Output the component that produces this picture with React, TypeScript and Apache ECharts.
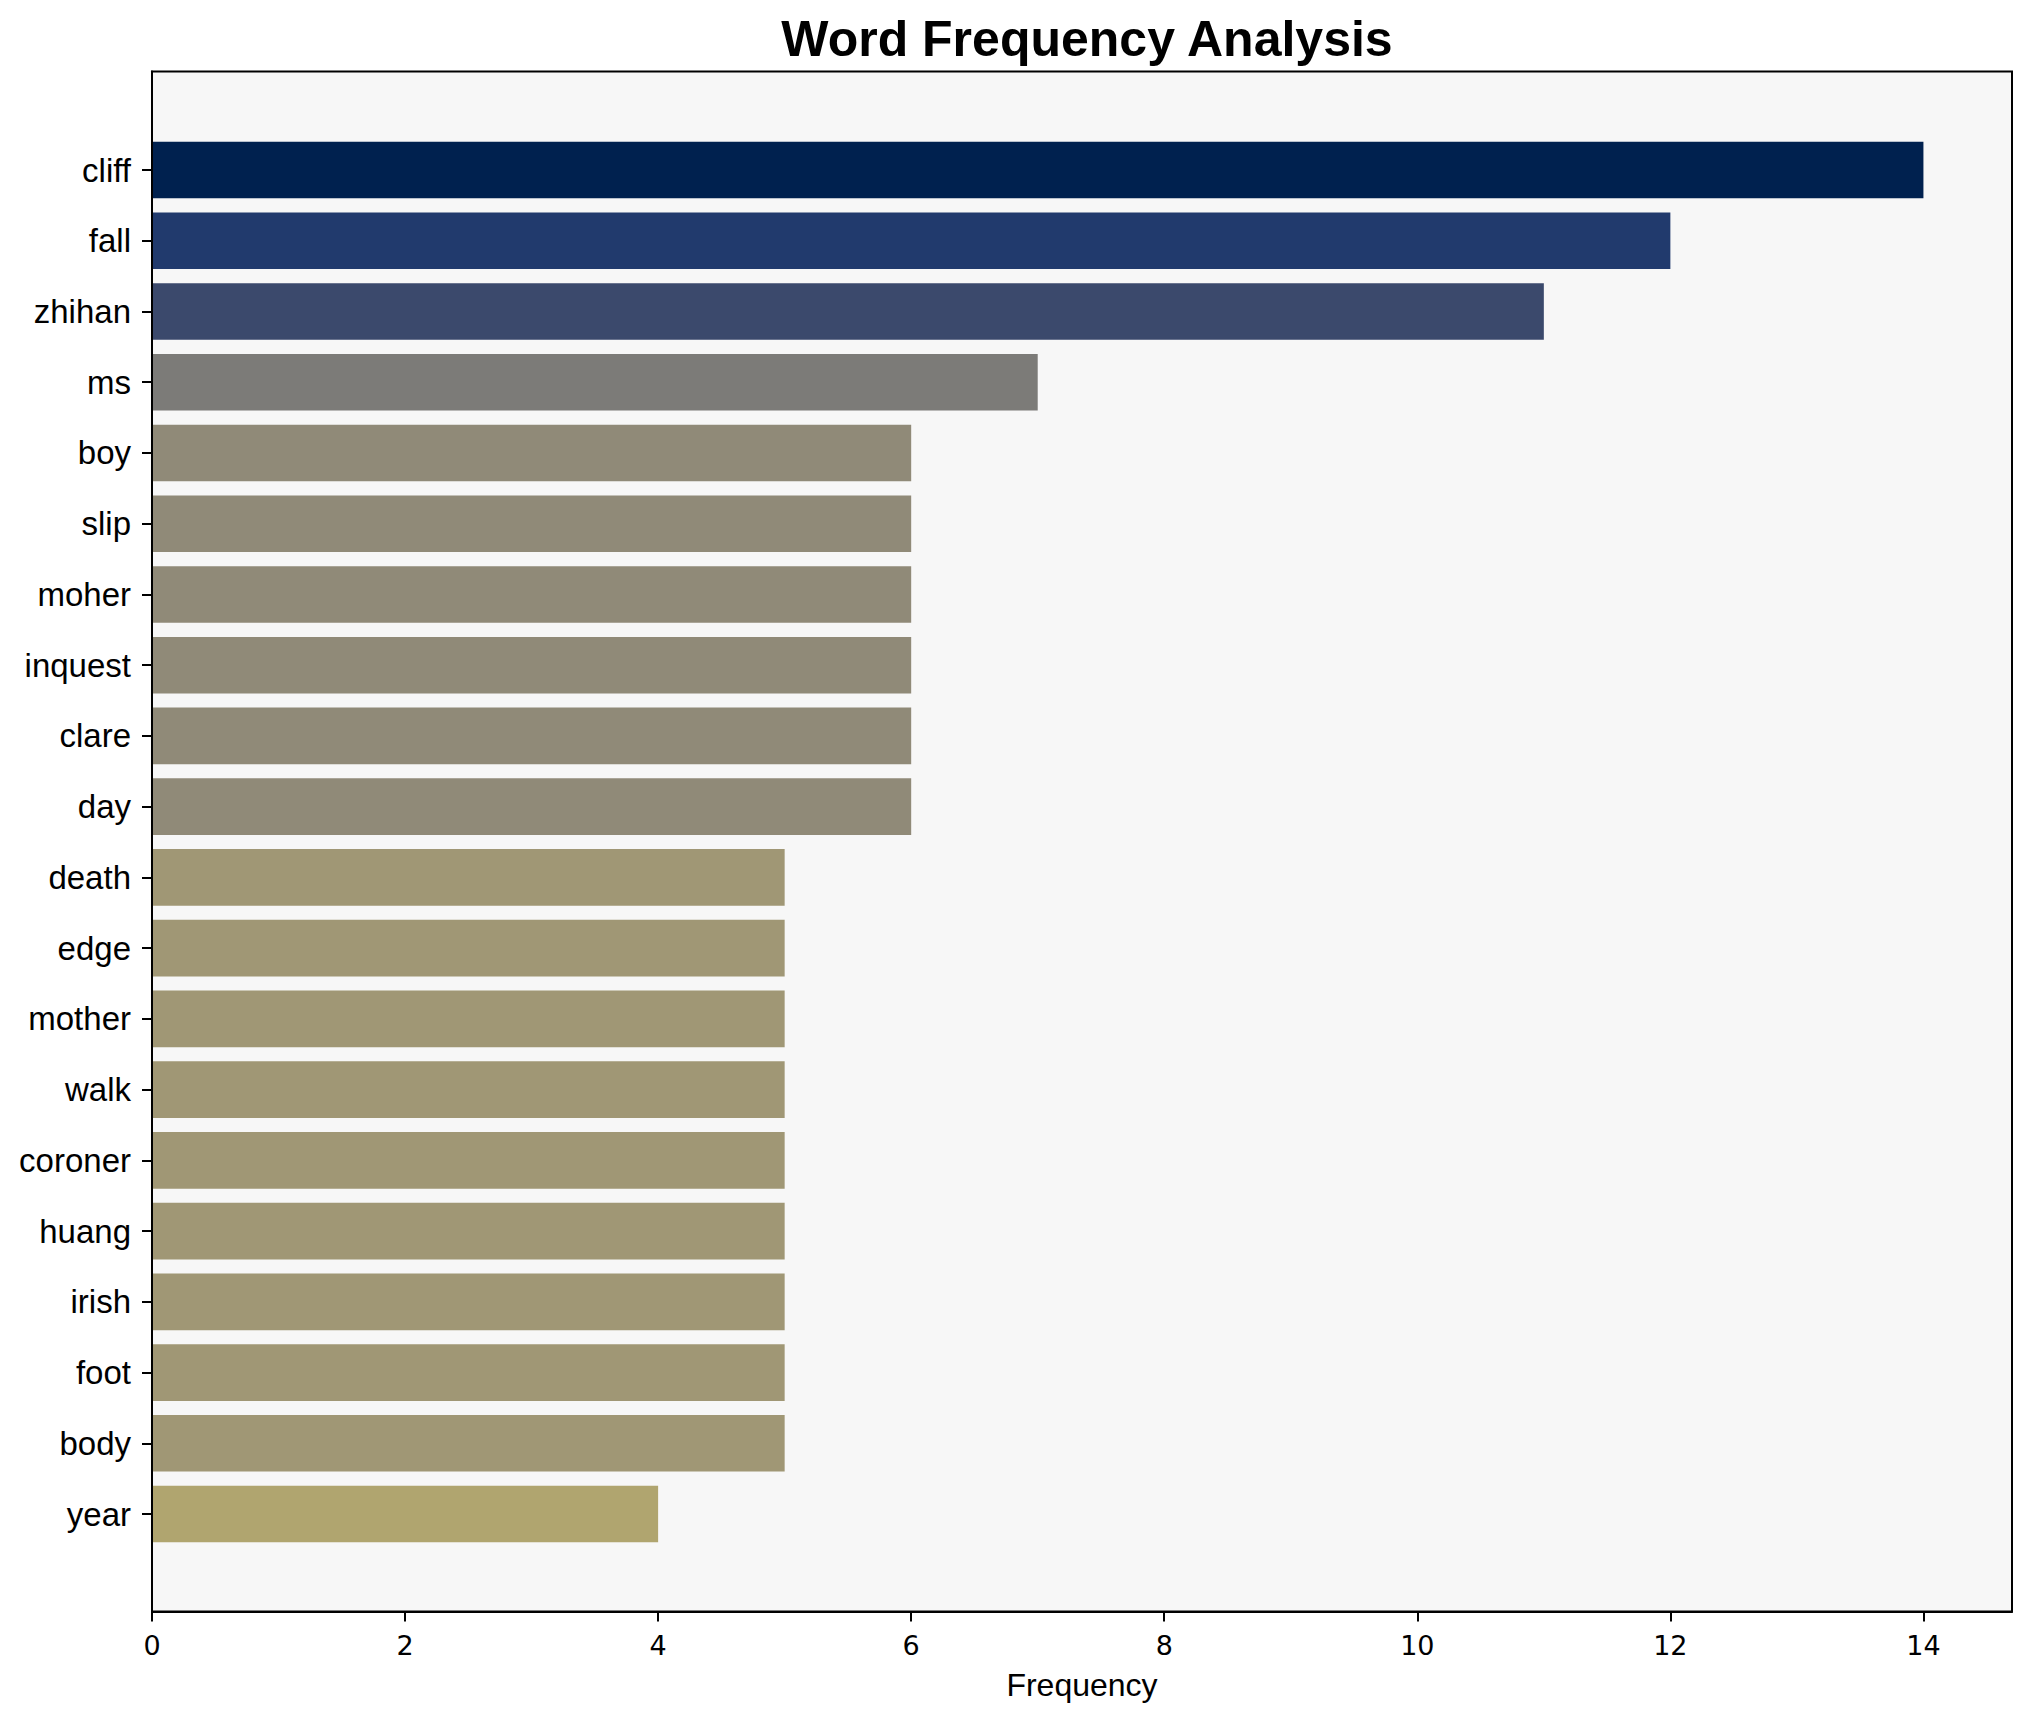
import React, { useEffect, useRef } from "react";
import * as echarts from "echarts";

const words = [
  "cliff", "fall", "zhihan", "ms", "boy", "slip", "moher", "inquest", "clare", "day",
  "death", "edge", "mother", "walk", "coroner", "huang", "irish", "foot", "body", "year",
];
const frequencies = [14, 12, 11, 7, 6, 6, 6, 6, 6, 6, 5, 5, 5, 5, 5, 5, 5, 5, 5, 4];
const barColors = [
  "#00214f", "#213a6d", "#3b496c", "#7c7b78",
  "#908a78", "#908a78", "#908a78", "#908a78", "#908a78", "#908a78",
  "#a09775", "#a09775", "#a09775", "#a09775", "#a09775", "#a09775", "#a09775", "#a09775", "#a09775",
  "#b0a56f",
];
const xTicks = [0, 2, 4, 6, 8, 10, 12, 14];

const FONT = "'Liberation Sans', Arial, sans-serif";
const TICK_FONT = "'DejaVu Sans', sans-serif";

export default function App() {
  const ref = useRef<HTMLDivElement>(null);
  useEffect(() => {
    if (!ref.current) return;
    const chart = echarts.init(ref.current, null, { renderer: "svg" });
    const frameLeft = 152;
    const frameWidth = 1860;
    const frameTop = 71.5;
    const frameHeight = 1540;
    const band = 70.74;
    const barTop = 170 - band / 2;
    chart.setOption({
      animation: false,
      backgroundColor: "#ffffff",
      textStyle: { fontFamily: FONT, color: "#000" },
      title: {
        text: "Word Frequency Analysis",
        left: frameLeft + frameWidth / 2,
        textAlign: "center",
        top: 9,
        textStyle: { fontFamily: FONT, fontSize: 50, fontWeight: "bold", color: "#000" },
      },
      grid: [
        {
          left: frameLeft,
          top: frameTop,
          width: frameWidth,
          height: frameHeight,
          show: true,
          backgroundColor: "#f7f7f7",
          borderColor: "#000",
          borderWidth: 2,
          outerBoundsMode: "none",
          containLabel: false,
        },
        {
          left: frameLeft,
          top: barTop,
          width: frameWidth,
          height: band * words.length,
          show: false,
          outerBoundsMode: "none",
          containLabel: false,
        },
      ],
      xAxis: [
        {
          type: "value",
          gridIndex: 0,
          min: 0,
          max: 14.7,
          interval: 2,
          z: 10,
          axisLine: { show: true, lineStyle: { color: "#000", width: 2 } },
          axisTick: {
            show: true,
            length: 10,
            customValues: xTicks,
            lineStyle: { color: "#000", width: 2 },
          },
          axisLabel: {
            show: true,
            fontFamily: TICK_FONT,
            fontSize: 27,
            color: "#000",
            margin: 20,
            customValues: xTicks,
            formatter: (v: number) => String(v),
          },
          splitLine: { show: false },
          name: "Frequency",
          nameLocation: "middle",
          nameGap: 57,
          nameTextStyle: { fontFamily: FONT, fontSize: 32, color: "#000" },
        },
        {
          type: "value",
          gridIndex: 1,
          min: 0,
          max: 14.7,
          show: false,
          splitLine: { show: false },
        },
      ],
      yAxis: [
        {
          type: "value",
          gridIndex: 0,
          min: 0,
          max: 1,
          z: 10,
          axisLine: { show: true, lineStyle: { color: "#000", width: 2 } },
          axisTick: { show: false },
          axisLabel: { show: false },
          splitLine: { show: false },
        },
        {
          type: "category",
          gridIndex: 1,
          data: words,
          inverse: true,
          axisLine: { show: false },
          axisTick: {
            show: true,
            alignWithLabel: true,
            length: 10,
            lineStyle: { color: "#000", width: 2 },
          },
          axisLabel: { fontFamily: FONT, fontSize: 33, color: "#000", margin: 21 },
          splitLine: { show: false },
        },
      ],
      series: [
        {
          type: "bar",
          xAxisIndex: 1,
          yAxisIndex: 1,
          barCategoryGap: "20%",
          z: 2,
          data: frequencies.map((v, i) => ({ value: v, itemStyle: { color: barColors[i] } })),
        },
      ],
    });
    return () => chart.dispose();
  }, []);
  return (
    <div
      ref={ref}
      style={{ position: "fixed", left: 0, top: 0, width: 2032, height: 1722, background: "#fff" }}
    />
  );
}
